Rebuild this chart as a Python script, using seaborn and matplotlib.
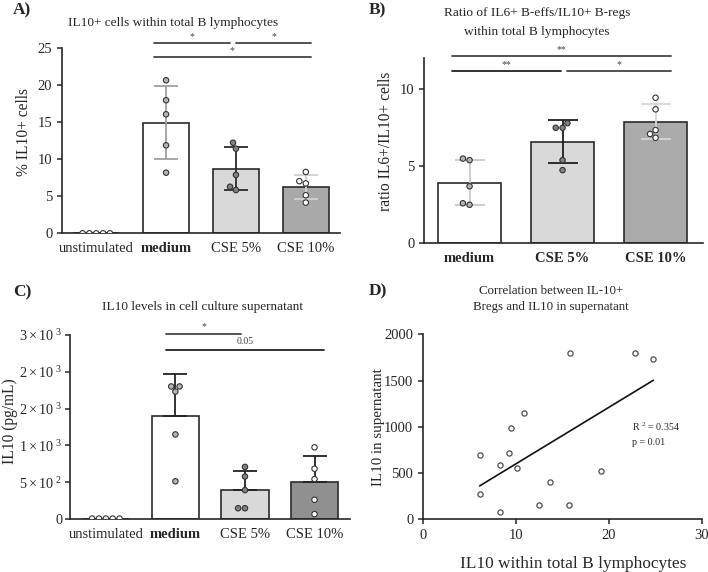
import numpy as np
import pandas as pd
import matplotlib
matplotlib.use("Agg")
import matplotlib.pyplot as plt
import seaborn as sns

sns.set_style("ticks")
plt.rcParams['font.family'] = ['Liberation Serif', 'DejaVu Serif']
plt.rcParams['mathtext.fontset'] = 'custom'
plt.rcParams['mathtext.rm'] = 'Liberation Serif'
plt.rcParams['mathtext.it'] = 'Liberation Serif'

# ---- data ----
groups4 = ['unstimulated', 'medium', 'CSE 5%', 'CSE 10%']
groups3 = ['medium', 'CSE 5%', 'CSE 10%']

# A) % IL10+ cells
a_unstim = [0, 0, 0, 0, 0]
a_medium = [20.7, 18.0, 16.1, 11.9, 8.2]
a_cse5 = [12.25, 11.45, 7.9, 6.3, 5.85]
a_cse10 = [8.3, 7.05, 6.75, 5.15, 4.15]

# B) ratio IL6+/IL10+
b_medium = [5.5, 5.4, 3.7, 2.6, 2.5]
b_cse5 = [7.8, 7.5, 7.5, 5.4, 4.75]
b_cse10 = [9.45, 8.7, 7.35, 7.1, 6.85]

# C) IL10 pg/mL
c_unstim = [10, 10, 10, 10, 10]
c_medium = [1800, 1730, 1800, 1150, 515]
c_cse5 = [710, 580, 395, 150, 150]
c_cse10 = [975, 685, 545, 265, 70]

# D) correlation
d_x = [15.8, 22.85, 24.8, 10.9, 9.5, 6.15, 9.25, 8.25, 10.1, 13.7, 19.2, 6.1, 12.5, 15.7, 8.25]
d_y = [1800, 1800, 1735, 1150, 985, 695, 720, 590, 555, 405, 525, 270, 155, 155, 80]
r2_text = 'R $^{2}$ = 0.354'
p_text = 'p = 0.01'

bar_cols = {'unstimulated': 'white', 'medium': 'white', 'CSE 5%': '#d9d9d9', 'CSE 10%': '#a9a9a9'}
pt_cols = {'unstimulated': 'white', 'medium': '#b5b5b5', 'CSE 5%': '#828282', 'CSE 10%': 'white'}
err_cols = {'unstimulated': '#bbbbbb', 'medium': '#a0a0a0', 'CSE 5%': '#2a2a2a', 'CSE 10%': '#d0d0d0'}


def long_df(names, arrays):
    rows = []
    for n, arr in zip(names, arrays):
        for v in arr:
            rows.append((n, v))
    return pd.DataFrame(rows, columns=['group', 'value'])


def bar_panel(ax, df, order, bar_colors, err_colors, upper_only=False, width=0.66, cap=8.5):
    sns.barplot(data=df, x='group', y='value', order=order, hue='group', hue_order=order,
                palette=bar_colors, errorbar=None, width=width, edgecolor='#2a2a2a',
                linewidth=1.2, legend=False, ax=ax)
    stats = df.groupby('group')['value'].agg(['mean', 'std']).reindex(order)
    for i, g in enumerate(order):
        m, s = stats.loc[g, 'mean'], stats.loc[g, 'std']
        if s == 0:
            continue
        lower = 0 if upper_only else s
        ax.errorbar(i, m, yerr=[[lower], [s]], color=err_colors[g], capsize=cap,
                    capthick=1.3, elinewidth=1.3, zorder=3)
    sns.swarmplot(data=df, x='group', y='value', order=order, hue='group', hue_order=order,
                  palette=pt_cols, size=3.9, edgecolor='#333333', linewidth=0.8,
                  legend=False, ax=ax, zorder=4)
    sns.despine(ax=ax)
    ax.set_xlabel('')
    ax.spines['left'].set_linewidth(1.2)
    ax.spines['bottom'].set_linewidth(1.2)
    ax.tick_params(axis='x', length=0, labelsize=10.5, pad=6)
    ax.tick_params(axis='y', labelsize=10.5, width=1.1)


def sig(ax, x0, x1, y, label, col='#444444', dy=0.3, fs=7):
    ax.plot([x0, x1], [y, y], color=col, lw=1.3, clip_on=False)
    ax.text((x0 + x1) / 2, y + dy, label, ha='center', va='bottom', fontsize=fs, color='#444444')


fig = plt.figure(figsize=(7.08, 5.72), dpi=100)
W, H = 708, 572


def add_ax(l, t, r, b):
    return fig.add_axes([l / W, 1 - b / H, (r - l) / W, (b - t) / H])


# ---- A ----
axA = add_ax(62, 30, 340, 233.3)
dfA = long_df(groups4, [a_unstim, a_medium, a_cse5, a_cse10])
bar_panel(axA, dfA, groups4, bar_cols, err_cols)
axA.set_xlim(-0.49, 3.49)
axA.set_ylim(0, 27.5)
axA.set_yticks([0, 5, 10, 15, 20, 25])
axA.spines['left'].set_bounds(0, 25)
axA.set_ylabel('% IL10+ cells', fontsize=11.2)
sig(axA, 0.82, 1.91, 25.7, '*')
sig(axA, 2.0, 3.08, 25.7, '*')
sig(axA, 0.82, 3.08, 23.8, '*')
axA.get_xticklabels()[1].set_fontweight('bold')
fig.text(173 / W, 1 - 23 / H, 'IL10+ cells within total B lymphocytes', ha='center', va='center', fontsize=9.6)
fig.text(13 / W, 1 - 10 / H, 'A)', ha='left', va='center', fontsize=12.5, fontweight='bold')

# ---- B ----
axB = add_ax(424, 40, 703, 243.3)
dfB = long_df(groups3, [b_medium, b_cse5, b_cse10])
bcols = {'medium': 'white', 'CSE 5%': '#d9d9d9', 'CSE 10%': '#aaaaaa'}
berr = {'medium': '#c8c8c8', 'CSE 5%': '#1e1e1e', 'CSE 10%': '#d5d5d5'}
bar_panel(axB, dfB, groups3, bcols, berr, width=0.67, cap=11)
axB.set_xlim(-0.49, 2.51)
axB.set_ylim(0, 13.2)
axB.set_yticks([0, 5, 10])
axB.spines['left'].set_bounds(0, 12)
axB.set_ylabel('ratio IL6+/IL10+ cells', fontsize=11.2)
sig(axB, -0.19, 2.17, 12.14, '**', dy=0.15)
sig(axB, -0.19, 0.98, 11.17, '**', col='#222222', dy=0.15)
sig(axB, 1.05, 2.17, 11.17, '*', dy=0.15)
for t in axB.get_xticklabels():
    t.set_fontweight('bold')
fig.text(537 / W, 1 - 13 / H, 'Ratio of IL6+ B-effs/IL10+ B-regs', ha='center', va='center', fontsize=9.6)
fig.text(537 / W, 1 - 32 / H, 'within total B lymphocytes', ha='center', va='center', fontsize=9.6)
fig.text(369 / W, 1 - 10 / H, 'B)', ha='left', va='center', fontsize=12.5, fontweight='bold')

# ---- C ----
axC = add_ax(70, 320, 350, 519.3)
dfC = long_df(groups4, [c_unstim, c_medium, c_cse5, c_cse10])
ccols = {'unstimulated': 'white', 'medium': 'white', 'CSE 5%': '#d9d9d9', 'CSE 10%': '#909090'}
cerr = {g: '#222222' for g in groups4}
bar_panel(axC, dfC, groups4, ccols, cerr, upper_only=True, width=0.68)
axC.set_xlim(-0.515, 3.51)
axC.set_ylim(0, 2700)
axC.set_yticks([0, 500, 1000, 1500, 2000, 2500])
axC.set_yticklabels(['0', r'$5\times10^{\ 2}$', r'$1\times10^{\ 3}$', r'$2\times10^{\ 3}$',
                     r'$2\times10^{\ 3}$', r'$3\times10^{\ 3}$'], fontsize=10.3)
axC.tick_params(axis='y', pad=2)
axC.spines['left'].set_bounds(0, 2500)
axC.set_ylabel('IL10 (pg/mL)', fontsize=11.2)
axC.yaxis.set_label_coords(-0.215, 0.49)
axC.yaxis.label.set_va('center')
sig(axC, 0.86, 1.95, 2515, '*', dy=30)
sig(axC, 0.86, 3.14, 2290, '0.05', col='#222222', dy=60)
axC.get_xticklabels()[1].set_fontweight('bold')
fig.text(203 / W, 1 - 307 / H, 'IL10 levels in cell culture supernatant', ha='center', va='center', fontsize=9.5)
fig.text(13 / W, 1 - 292 / H, 'C)', ha='left', va='center', fontsize=12.5, fontweight='bold')

# ---- D ----
axD = add_ax(423, 334.3, 701.7, 519.3)
dfD = pd.DataFrame({'x': d_x, 'y': d_y})
sns.regplot(data=dfD, x='x', y='y', ci=None, ax=axD,
            scatter_kws=dict(s=14, facecolor='white', edgecolor='#222222', linewidths=0.9),
            line_kws=dict(color='#111111', lw=1.2))
sns.despine(ax=axD)
axD.set_xlim(0, 30)
axD.set_ylim(0, 2000)
axD.set_xticks([0, 10, 20, 30])
axD.set_yticks([0, 500, 1000, 1500, 2000])
axD.spines['left'].set_linewidth(1.2)
axD.spines['bottom'].set_linewidth(1.2)
axD.tick_params(labelsize=10.5, width=1.1)
axD.set_xlabel('IL10 within total B lymphocytes', fontsize=12.4)
axD.xaxis.set_label_coords(0.54, -0.242)
axD.xaxis.label.set_va('center')
axD.set_ylabel('IL10 in supernatant', fontsize=10.8)
axD.yaxis.set_label_coords(-0.158, 0.5)
axD.yaxis.label.set_va('center')
axD.text(22.5, 1000, r2_text, fontsize=7.2, va='center')
axD.text(22.5, 830, p_text, fontsize=7.2, va='center')
fig.text(551 / W, 1 - 291 / H, 'Correlation between IL-10+', ha='center', va='center', fontsize=9.3)
fig.text(551 / W, 1 - 307 / H, 'Bregs and IL10 in supernatant', ha='center', va='center', fontsize=9.3)
fig.text(369 / W, 1 - 291 / H, 'D)', ha='left', va='center', fontsize=12.5, fontweight='bold')

fig.savefig('out.png', dpi=100)
